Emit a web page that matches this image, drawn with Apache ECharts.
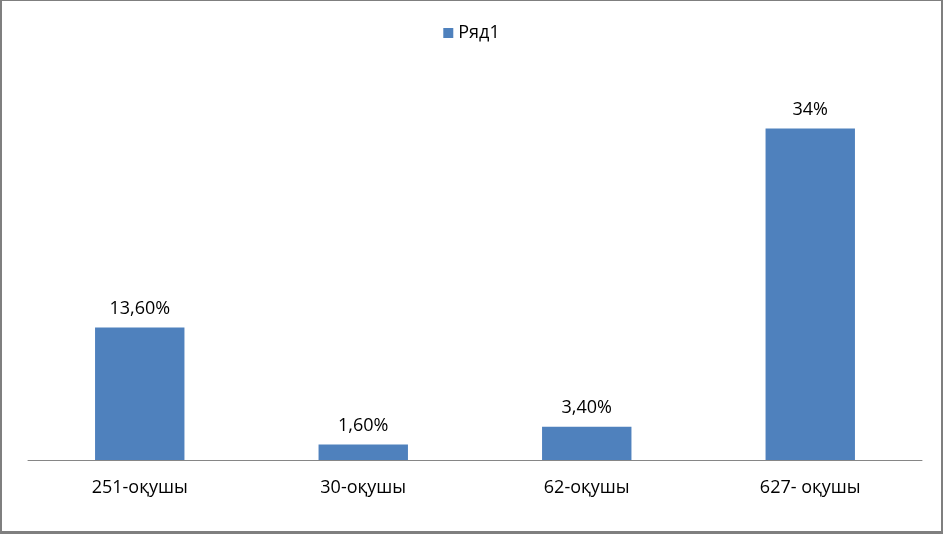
<!DOCTYPE html>
<html>
<head>
<meta charset="utf-8">
<script src="https://cdn.jsdelivr.net/npm/echarts@6/dist/echarts.min.js"></script>
<style>
html,body{margin:0;padding:0;background:#fff;}
#c{width:943px;height:534px;box-sizing:border-box;border:1px solid #7f7f7f;border-left:2px solid #7f7f7f;border-bottom:3px solid #7f7f7f;border-right:2px solid #7f7f7f;}
</style>
</head>
<body>
<div id="c"></div>
<script>
const categories = ['251-оқушы', '30-оқушы', '62-оқушы', '627- оқушы'];
const values = [13.6, 1.6, 3.4, 34];
const labelTexts = ['13,60%', '1,60%', '3,40%', '34%'];
const seriesName = 'Ряд1';

const chart = echarts.init(document.getElementById('c'));
const font = '"Open Sans", "Liberation Sans", sans-serif';
chart.setOption({
  animation: false,
  textStyle: {fontFamily: font},
  legend: {
    top: 18, left: 'center',
    itemWidth: 10, itemHeight: 10, itemGap: 7,
    icon: 'rect',
    textStyle: {fontSize: 18, color: '#000', fontFamily: font},
    data: [seriesName]
  },
  grid: {left: 26, right: 19, top: 69, bottom: 71},
  xAxis: {
    type: 'category',
    data: categories,
    axisLine: {lineStyle: {color: '#868686', width: 1}},
    axisTick: {show: false},
    axisLabel: {color: '#000', fontSize: 18, margin: 19, fontFamily: font}
  },
  yAxis: {
    type: 'value', min: 0, max: 40, interval: 10,
    show: false, splitLine: {show: false}
  },
  series: [{
    name: seriesName,
    type: 'bar',
    data: values,
    barWidth: '40%',
    itemStyle: {color: '#4F81BD'},
    label: {
      show: true, position: 'top', distance: 10,
      color: '#000', fontSize: 18, fontFamily: font,
      formatter: p => labelTexts[p.dataIndex]
    }
  }]
});
</script>
</body>
</html>
